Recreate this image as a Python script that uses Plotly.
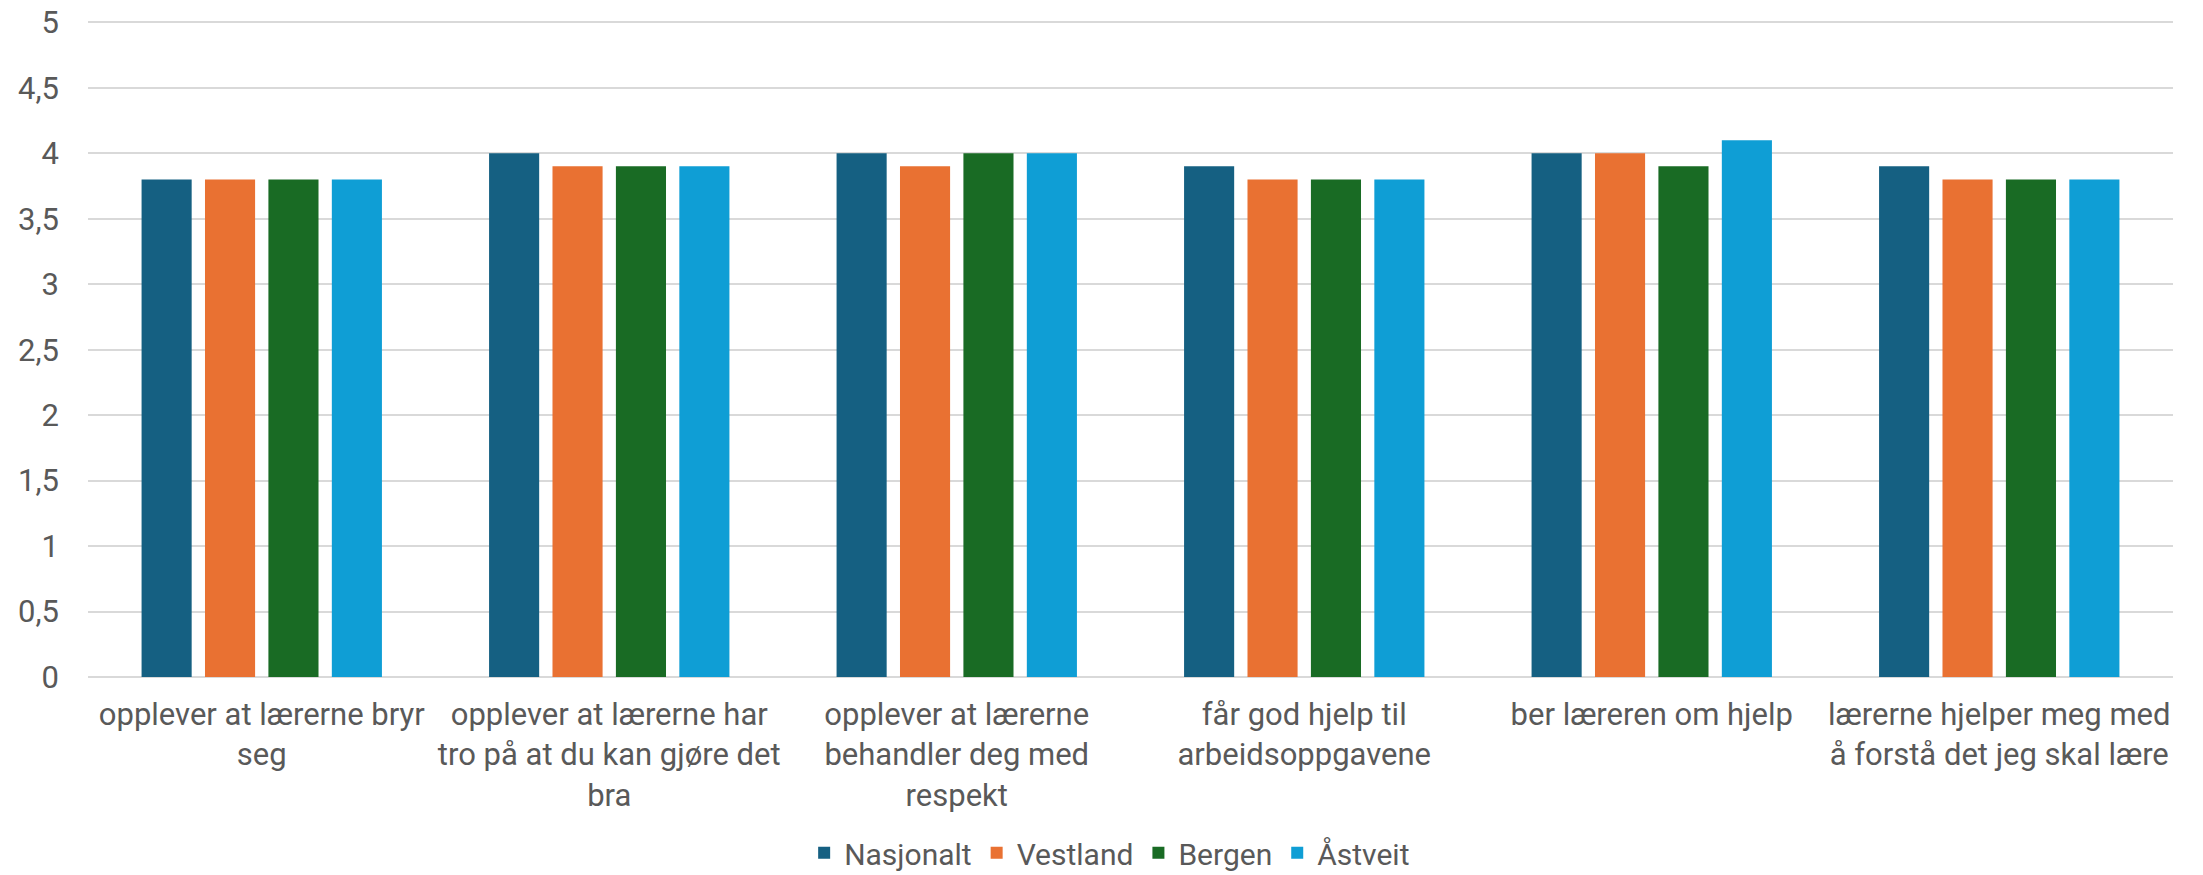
import plotly.graph_objects as go

categories = [
    "opplever at lærerne bryr<br>seg",
    "opplever at lærerne har<br>tro på at du kan gjøre det<br>bra",
    "opplever at lærerne<br>behandler deg med<br>respekt",
    "får god hjelp til<br>arbeidsoppgavene",
    "ber læreren om hjelp",
    "lærerne hjelper meg med<br>å forstå det jeg skal lære",
]
nasjonalt = [3.8, 4.0, 4.0, 3.9, 4.0, 3.9]
vestland = [3.8, 3.9, 3.9, 3.8, 4.0, 3.8]
bergen = [3.8, 3.9, 4.0, 3.8, 3.9, 3.8]
astveit = [3.8, 3.9, 4.0, 3.8, 4.1, 3.8]
series_names = ["Nasjonalt", "Vestland", "Bergen", "Åstveit"]
colors = ["#156082", "#E97132", "#196B24", "#0F9ED5"]

fig = go.Figure()
for name, vals, col in zip(series_names, [nasjonalt, vestland, bergen, astveit], colors):
    fig.add_trace(go.Bar(x=categories, y=vals, name=name, marker_color=col,
                         marker_line_width=0))

font_family = "Roboto"
text_color = "#595959"
fs = 31
fig.update_layout(
    width=2203, height=875,
    paper_bgcolor="white", plot_bgcolor="white",
    margin=dict(l=88, r=30, t=21, b=198, autoexpand=False),
    barmode="group", bargap=0.27, bargroupgap=0.21,
    separators=", ",
    font=dict(family=font_family, size=fs, color=text_color),
    showlegend=True,
    legend=dict(orientation="h", x=0.49, xanchor="center", y=-0.268, yanchor="middle",
                font=dict(size=30, color=text_color), itemwidth=30),
    yaxis=dict(range=[0, 5.01], tick0=0, dtick=0.5, showgrid=True, gridcolor="#D9D9D9", gridwidth=1.5,
               zeroline=True, zerolinecolor="#D9D9D9", zerolinewidth=1.5, automargin=False,
               ticks="", ticklabelstandoff=28, ticklabeloverflow="allow",
               tickfont=dict(size=fs, color=text_color)),
    xaxis=dict(showline=False, ticks="", tickfont=dict(size=fs, color=text_color),
               automargin=False, ticklabelstandoff=16, tickangle=0),
)
fig.write_html("out.html", config={"displayModeBar": False},
               post_script="document.body.style.margin='0';")
